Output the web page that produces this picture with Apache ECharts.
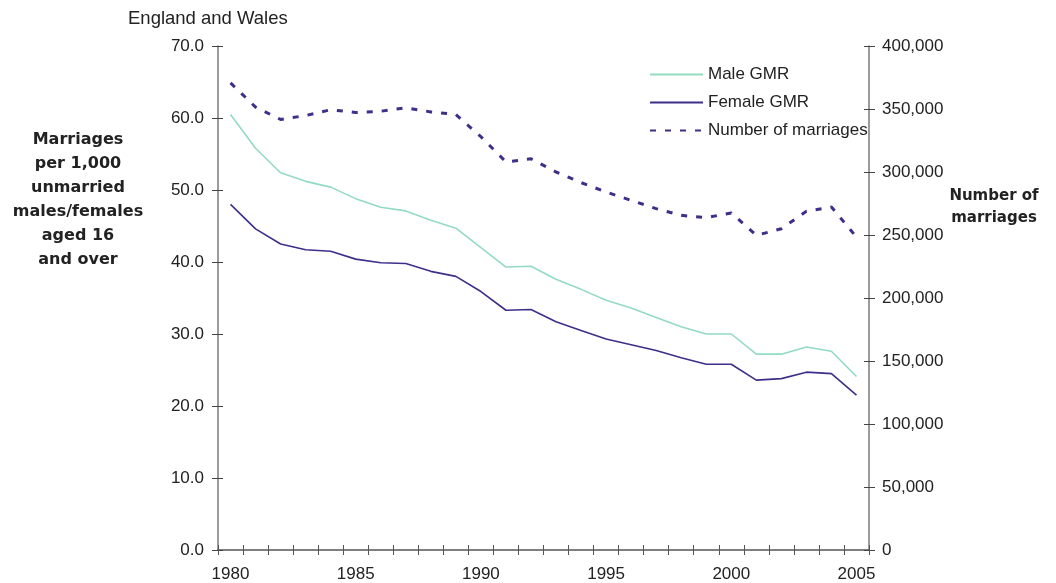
<!DOCTYPE html>
<html>
<head>
<meta charset="utf-8">
<script src="https://cdn.jsdelivr.net/npm/echarts@6/dist/echarts.min.js"></script>
<style>
html,body{margin:0;padding:0;background:#fff;}
#chart{width:1056px;height:583px;}
</style>
</head>
<body>
<div id="chart"></div>
<script>
const years = ['1980','1981','1982','1983','1984','1985','1986','1987','1988','1989','1990','1991','1992','1993','1994','1995','1996','1997','1998','1999','2000','2001','2002','2003','2004','2005'];
const maleGMR = [60.5, 55.8, 52.4, 51.2, 50.4, 48.8, 47.6, 47.1, 45.8, 44.7, 42.0, 39.3, 39.4, 37.6, 36.2, 34.7, 33.6, 32.3, 31.0, 30.0, 30.0, 27.2, 27.2, 28.2, 27.6, 24.1];
const femaleGMR = [48.0, 44.6, 42.5, 41.7, 41.5, 40.4, 39.9, 39.8, 38.7, 38.0, 35.9, 33.3, 33.4, 31.7, 30.5, 29.3, 28.5, 27.7, 26.7, 25.8, 25.8, 23.6, 23.8, 24.7, 24.5, 21.5];
const marriages = [370700, 351500, 341700, 344800, 349400, 347200, 348200, 351000, 347700, 345600, 328000, 308000, 310500, 300000, 291600, 284100, 277500, 270900, 265600, 263800, 267500, 249700, 255000, 268800, 272200, 248300];
const seriesNames = ['Male GMR', 'Female GMR', 'Number of marriages'];
const chartTitle = 'England and Wales';
const leftTitle = 'Marriages\nper 1,000\nunmarried\nmales/females\naged 16\nand over';
const rightTitle = 'Number of\nmarriages';

const FONT = "'Liberation Sans', Arial, sans-serif";
const BOLD = "'DejaVu Sans', 'Liberation Sans', sans-serif";
const axisGrey = '#7a7a7a';
const textCol = '#222';
const maleCol = '#93dbc0';
const femCol = '#3d2f8a';

const chart = echarts.init(document.getElementById('chart'), null, {renderer: 'canvas'});
const fmtThousands = v => String(v).replace(/\B(?=(\d{3})+(?!\d))/g, ',');

chart.setOption({
  animation: false,
  backgroundColor: '#fff',
  grid: {left: 218, right: 187, top: 46, bottom: 32, containLabel: false},
  legend: {
    orient: 'vertical', left: 644, top: 61,
    itemWidth: 53, itemHeight: 14, itemGap: 11,
    itemStyle: {opacity: 0},
    textStyle: {fontFamily: FONT, fontSize: 17, color: textCol},
    data: seriesNames
  },
  xAxis: [
    {
      type: 'category', data: years, boundaryGap: true, position: 'bottom',
      axisLine: {lineStyle: {color: '#555', width: 1.5}},
      axisTick: {show: true, interval: 0, length: 5, lineStyle: {color: '#555', width: 1}},
      axisLabel: {interval: 4, margin: 16, fontFamily: FONT, fontSize: 17, color: textCol},
      splitLine: {show: false}
    },
    {
      type: 'category', data: years, boundaryGap: true, position: 'bottom', offset: 0,
      axisLine: {show: false},
      axisTick: {show: true, inside: true, interval: 0, length: 5, lineStyle: {color: '#555', width: 1}},
      axisLabel: {show: false},
      splitLine: {show: false}
    }
  ],
  yAxis: [
    {
      type: 'value', position: 'left', min: 0, max: 70, interval: 10,
      axisLine: {show: true, lineStyle: {color: axisGrey, width: 1.5}},
      axisTick: {show: true, length: 6, lineStyle: {color: '#444'}},
      axisLabel: {margin: 14, fontFamily: FONT, fontSize: 17, color: textCol, formatter: v => v.toFixed(1)},
      splitLine: {show: false}
    },
    {
      type: 'value', position: 'right', min: 0, max: 400000, interval: 50000,
      axisLine: {show: true, lineStyle: {color: axisGrey, width: 1.5}},
      axisTick: {show: true, length: 6, lineStyle: {color: '#444'}},
      axisLabel: {margin: 13, fontFamily: FONT, fontSize: 17, color: textCol, formatter: fmtThousands},
      splitLine: {show: false}
    },
    {
      type: 'value', position: 'left', offset: 0, min: 0, max: 70, interval: 10,
      axisLine: {show: false},
      axisTick: {show: true, inside: true, length: 5, lineStyle: {color: '#444'}},
      axisLabel: {show: false}, splitLine: {show: false}
    },
    {
      type: 'value', position: 'right', offset: 0, min: 0, max: 400000, interval: 50000,
      axisLine: {show: false},
      axisTick: {show: true, inside: true, length: 5, lineStyle: {color: '#444'}},
      axisLabel: {show: false}, splitLine: {show: false}
    }
  ],
  series: [
    {name: seriesNames[0], type: 'line', xAxisIndex: 0, yAxisIndex: 0, data: maleGMR,
     symbol: 'none', lineStyle: {color: maleCol, width: 1.6}, itemStyle: {color: maleCol}},
    {name: seriesNames[1], type: 'line', xAxisIndex: 0, yAxisIndex: 0, data: femaleGMR,
     symbol: 'none', lineStyle: {color: femCol, width: 1.6}, itemStyle: {color: femCol}},
    {name: seriesNames[2], type: 'line', xAxisIndex: 0, yAxisIndex: 1, data: marriages,
     symbol: 'none', lineStyle: {color: femCol, width: 3, type: [6, 9]}, itemStyle: {color: femCol}}
  ],
  graphic: [
    {type: 'text', left: 128, top: 9, style: {text: chartTitle, font: "18.5px " + FONT, fill: textCol}},
    {type: 'text', x: 78, y: 128, style: {text: leftTitle, font: "bold 16px " + BOLD, fill: textCol, align: 'center', verticalAlign: 'top', lineHeight: 24}},
    {type: 'text', x: 994, y: 185, style: {text: rightTitle, font: "bold 15px " + BOLD, fill: textCol, align: 'center', verticalAlign: 'top', lineHeight: 22}}
  ]
});
</script>
</body>
</html>
